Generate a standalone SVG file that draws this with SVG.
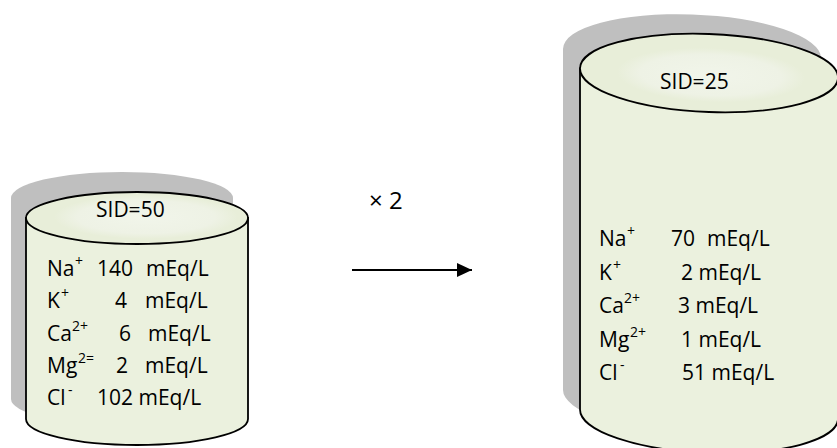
<svg xmlns="http://www.w3.org/2000/svg" width="837" height="448" viewBox="0 0 837 448">
  <defs>
    <radialGradient id="capGlow" cx="0.5" cy="0.5" r="0.5">
      <stop offset="0" stop-color="#f1f5ea"/>
      <stop offset="0.75" stop-color="#eef2e5"/>
      <stop offset="1" stop-color="#eef2e5" stop-opacity="0"/>
    </radialGradient>
    <marker id="arrowHead" markerUnits="userSpaceOnUse" markerWidth="16" markerHeight="16" refX="15" refY="7" orient="auto">
      <path d="M0,0 L15,7 L0,14 Z" fill="#000"/>
    </marker>
  </defs>
  <style>
    .shadow { fill: #bfbfbf; }
    .body { fill: #ebf1de; stroke: #000; stroke-width: 1.8; }
    .cap { fill: #e8eed9; stroke: #000; stroke-width: 1.8; }
    .glow { fill: url(#capGlow); }
    text { font-family: "Open Sans", "Liberation Sans", sans-serif; font-size: 21px; fill: #000; }
    .sup { font-size: 14px; }
    .conn { stroke: #000; stroke-width: 2; fill: none; }
  </style>

  <!-- small tank: SID=50 -->
  <g id="tank-before">
    <path class="shadow" transform="translate(-15,-20)" d="M26,218 A111,26 0 0 1 248,218 V419 A111,26 0 0 1 26,419 Z"/>
    <path class="body" d="M26,218 V419 A111,26 0 0 0 248,419 V218 Z"/>
    <ellipse class="cap" cx="137" cy="218" rx="111" ry="26"/>
    <ellipse class="glow" cx="146" cy="217" rx="92" ry="22"/>
    <text x="96" y="217">SID=50</text>
    <text x="47" y="276">Na</text><text class="sup" x="75" y="266">+</text>
    <text x="97" y="276">140</text><text x="146" y="276">mEq/L</text>
    <text x="47" y="308">K</text><text class="sup" x="61" y="298">+</text>
    <text x="115" y="308">4</text><text x="145" y="308">mEq/L</text>
    <text x="47" y="341">Ca</text><text class="sup" x="72" y="331">2+</text>
    <text x="119" y="341">6</text><text x="148" y="341">mEq/L</text>
    <text x="47" y="373">Mg</text><text class="sup" x="78" y="363">2=</text>
    <text x="116" y="373">2</text><text x="145" y="373">mEq/L</text>
    <text x="47" y="405">Cl</text><text class="sup" x="68" y="395">-</text>
    <text x="97" y="405">102 mEq/L</text>
  </g>

  <!-- dilution step -->
  <g id="connectors">
    <line class="conn" x1="352" y1="270" x2="472" y2="270" marker-end="url(#arrowHead)"/>
    <text x="369" y="209" style="font-size:24px">× 2</text>
  </g>

  <!-- large tank: SID=25 -->
  <g id="tank-after">
    <g transform="translate(0,-24.76) skewY(2)">
      <path class="shadow" transform="translate(-17,-19)" d="M580,73 A129,39 0 0 1 838,73 V414 A129,39 0 0 1 580,414 Z"/>
      <path class="body" d="M580,73 V414 A129,39 0 0 0 838,414 V73 Z"/>
      <ellipse class="cap" cx="709" cy="73" rx="129" ry="39"/>
      <ellipse class="glow" cx="711" cy="75" rx="94" ry="27"/>
    </g>
    <text x="660" y="89">SID=25</text>
    <text x="599" y="246">Na</text><text class="sup" x="627" y="236">+</text>
    <text x="671" y="246">70</text><text x="707" y="246">mEq/L</text>
    <text x="599" y="280">K</text><text class="sup" x="613" y="270">+</text>
    <text x="681" y="280">2 mEq/L</text>
    <text x="599" y="313">Ca</text><text class="sup" x="624" y="303">2+</text>
    <text x="678" y="313">3 mEq/L</text>
    <text x="599" y="347">Mg</text><text class="sup" x="630" y="337">2+</text>
    <text x="681" y="347">1 mEq/L</text>
    <text x="599" y="380">Cl</text><text class="sup" x="620" y="370">-</text>
    <text x="682" y="380">51 mEq/L</text>
  </g>
</svg>
